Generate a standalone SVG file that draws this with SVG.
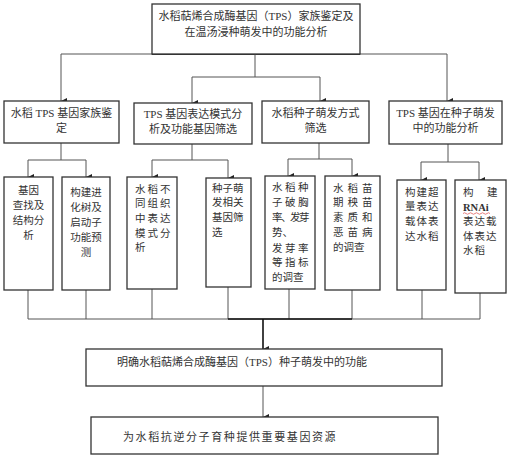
<svg xmlns="http://www.w3.org/2000/svg" width="511" height="460" viewBox="0 0 511 460">
<style>
.box{fill:#fff;stroke:#333;stroke-width:1.3}
.t{font-family:"Liberation Serif","Noto Sans CJK SC",serif;font-size:11px;fill:#333}
.tc{text-anchor:middle}
.v{font-family:"Liberation Serif","Noto Sans CJK SC",serif;font-size:10.5px;fill:#333}
.s{font-family:"Liberation Sans","Noto Sans CJK SC",sans-serif;font-size:11px;fill:#333;letter-spacing:1.6px}
.c{fill:none;stroke:#555;stroke-width:1}
.ck{fill:none;stroke:#111;stroke-width:1.6}
</style>
<defs>
<marker id="ar" viewBox="0 0 6 6" refX="3" refY="6" markerWidth="6" markerHeight="6" markerUnits="userSpaceOnUse" orient="auto-start-reverse">
<path d="M0,0 L6,0 L3,6 Z" fill="#222"/>
</marker>
</defs>
<rect width="511" height="460" fill="#fff"/>

<g id="connectors">
<path class="c" d="M61,54 H447"/>
<path class="ck" d="M152,54 H360"/>
<path class="c" d="M255,54 V77 M192,77 H320"/>
<path class="c" d="M61,54 V101" marker-end="url(#ar)"/>
<path class="c" d="M447,54 V101" marker-end="url(#ar)"/>
<path class="c" d="M192,77 V103" marker-end="url(#ar)"/>
<path class="c" d="M320,77 V101" marker-end="url(#ar)"/>

<path class="c" d="M61,143 V160 M28,160 H86"/>
<path class="c" d="M28,160 V177" marker-end="url(#ar)"/>
<path class="c" d="M86,160 V177" marker-end="url(#ar)"/>
<path class="c" d="M192,144 V160 M152,160 H228"/>
<path class="c" d="M152,160 V177" marker-end="url(#ar)"/>
<path class="c" d="M228,160 V178" marker-end="url(#ar)"/>
<path class="c" d="M319,143 V159 M288,159 H352"/>
<path class="c" d="M288,159 V176" marker-end="url(#ar)"/>
<path class="c" d="M352,159 V176" marker-end="url(#ar)"/>
<path class="c" d="M448,144 V162 M421,162 H479"/>
<path class="c" d="M421,162 V180" marker-end="url(#ar)"/>
<path class="c" d="M479,162 V180" marker-end="url(#ar)"/>

<path class="c" d="M28,290 V319 M86,290 V319 M152,289 V319 M228,287 V319 M289,289 V319 M352,290 V319 M422,290 V319 M480,293 V319 M28,319 H480"/>
<path class="ck" d="M228,319 H352"/>
<path class="ck" d="M263,319 V349" marker-end="url(#ar)"/>
<path class="c" d="M263,386 V417" marker-end="url(#ar)"/>
</g>

<g id="root">
<rect class="box" x="152" y="4" width="208" height="50"/>
<text class="t tc" x="256" y="20">水稻萜烯合成酶基因（TPS）家族鉴定及</text>
<text class="t tc" x="256" y="36">在温汤浸种萌发中的功能分析</text>
</g>

<g id="n1">
<rect class="box" x="4" y="101" width="115" height="42"/>
<text class="t tc" x="61.5" y="117">水稻 TPS 基因家族鉴</text>
<text class="t tc" x="61.5" y="132">定</text>
</g>
<g id="n2">
<rect class="box" x="134" y="103" width="118" height="41"/>
<text class="t tc" x="193" y="118">TPS 基因表达模式分</text>
<text class="t tc" x="193" y="133">析及功能基因筛选</text>
</g>
<g id="n3">
<rect class="box" x="262" y="101" width="107" height="42"/>
<text class="t tc" x="315.5" y="117">水稻种子萌发方式</text>
<text class="t tc" x="315.5" y="132">筛选</text>
</g>
<g id="n4">
<rect class="box" x="389" y="101" width="113" height="43"/>
<text class="t tc" x="445.5" y="117">TPS 基因在种子萌发</text>
<text class="t tc" x="445.5" y="132">中的功能分析</text>
</g>

<g id="a">
<rect class="box" x="4" y="177" width="49" height="113"/>
<text class="v tc" x="28.5" y="194">基因</text>
<text class="v tc" x="28.5" y="209">查找及</text>
<text class="v tc" x="28.5" y="224">结构分</text>
<text class="v tc" x="28.5" y="239">析</text>
</g>
<g id="b">
<rect class="box" x="62" y="177" width="48" height="113"/>
<text class="v tc" x="86" y="196">构建进</text>
<text class="v tc" x="86" y="211">化树及</text>
<text class="v tc" x="86" y="226">启动子</text>
<text class="v tc" x="86" y="241">功能预</text>
<text class="v tc" x="86" y="256">测</text>
</g>
<g id="c">
<rect class="box" x="127" y="177" width="50" height="112"/>
<text class="v" x="135" y="193" letter-spacing="2">水稻不</text>
<text class="v" x="135" y="207" letter-spacing="2">同组织</text>
<text class="v" x="135" y="222" letter-spacing="2">中表达</text>
<text class="v" x="135" y="237" letter-spacing="2">模式分</text>
<text class="v" x="135" y="251">析</text>
</g>
<g id="d">
<rect class="box" x="206" y="178" width="45" height="109"/>
<text class="v" x="212" y="192">种子萌</text>
<text class="v" x="212" y="206">发相关</text>
<text class="v" x="212" y="221">基因筛</text>
<text class="v" x="212" y="236">选</text>
</g>
<g id="e">
<rect class="box" x="265" y="176" width="50" height="113"/>
<text class="v" x="272" y="191" letter-spacing="2.5">水稻种</text>
<text class="v" x="272" y="206" letter-spacing="2.5">子破胸</text>
<text class="v" x="272" y="221" letter-spacing="-1.5">率、发芽</text>
<text class="v" x="272" y="236">势、</text>
<text class="v" x="272" y="252" letter-spacing="2.5">发芽率</text>
<text class="v" x="272" y="266" letter-spacing="2.5">等指标</text>
<text class="v" x="272" y="281">的调查</text>
</g>
<g id="f">
<rect class="box" x="325" y="176" width="55" height="114"/>
<text class="v" x="333" y="192" letter-spacing="4">水稻苗</text>
<text class="v" x="333" y="206" letter-spacing="4">期秧苗</text>
<text class="v" x="333" y="221" letter-spacing="4">素质和</text>
<text class="v" x="333" y="236" letter-spacing="4">恶苗病</text>
<text class="v" x="333" y="251">的调查</text>
</g>
<g id="g">
<rect class="box" x="397" y="180" width="49" height="110"/>
<text class="v" x="405" y="196" letter-spacing="1">构建超</text>
<text class="v" x="405" y="210" letter-spacing="1">量表达</text>
<text class="v" x="405" y="225" letter-spacing="1">载体表</text>
<text class="v" x="405" y="240" letter-spacing="1">达水稻</text>
</g>
<g id="h">
<rect class="box" x="455" y="180" width="51" height="113"/>
<text class="v" x="463" y="196">构</text>
<text class="v" x="487" y="196">建</text>
<text class="v" x="463" y="211" font-weight="bold">RNAi</text>
<path d="M463,213.5 q1.5,-1.5 3,0 t3,0 t3,0 t3,0 t3,0 t3,0 t3,0 t3,0 t3,0" fill="none" stroke="#e06060" stroke-width="0.8"/>
<text class="v" x="463" y="225" letter-spacing="1">表达载</text>
<text class="v" x="463" y="240" letter-spacing="1">体表达</text>
<text class="v" x="463" y="254" letter-spacing="1">水稻</text>
</g>

<g id="result">
<rect class="box" x="86" y="349" width="356" height="37"/>
<text class="t" x="117" y="366">明确水稻萜烯合成酶基因（TPS）种子萌发中的功能</text>
</g>
<g id="goal">
<rect class="box" x="91" y="417" width="347" height="37"/>
<text class="s" x="123" y="441">为水稻抗逆分子育种提供重要基因资源</text>
</g>
</svg>
